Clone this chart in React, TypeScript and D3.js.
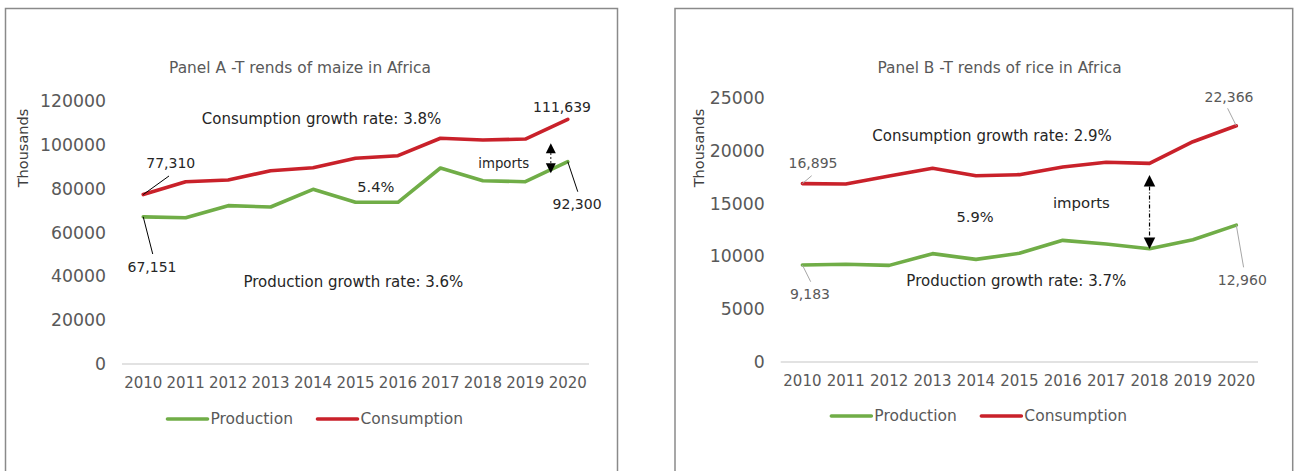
import React from "react";
import * as d3 from "d3";

const years = [2010, 2011, 2012, 2013, 2014, 2015, 2016, 2017, 2018, 2019, 2020];
const maizeProduction = [67151, 66700, 72250, 71630, 79700, 73770, 73770, 89430, 83640, 83180, 92300];
const maizeConsumption = [77310, 83180, 83950, 88200, 89570, 93850, 95050, 103000, 102200, 102650, 111639];
const riceProduction = [9183, 9250, 9150, 10260, 9720, 10290, 11520, 11170, 10730, 11580, 12960];
const riceConsumption = [16895, 16860, 17610, 18340, 17640, 17740, 18470, 18910, 18810, 20860, 22366];
const maizeTicks = [0, 20000, 40000, 60000, 80000, 100000, 120000];
const riceTicks = [0, 5000, 10000, 15000, 20000, 25000];
const seriesNames = ["Production", "Consumption"];

const GREEN = "#70AD47";
const RED = "#C9212A";
const FONT = "DejaVu Sans, sans-serif";

type PointLabel = { series: 0 | 1; index: number; text: string; dx: number; dy: number; lx: number; ly: number };
type FreeText = { text: string; year: number; value: number; size: number };

type PanelProps = {
  title: string;
  titleX: number;
  frameX0: number;
  frameX1: number;
  x0: number;
  x1: number;
  yTop: number;
  yBot: number;
  yMax: number;
  ticks: number[];
  prod: number[];
  cons: number[];
  labels: PointLabel[];
  texts: FreeText[];
  arrow: { year: number; v1: number; v2: number; dash: string; head: number };
  labelColor: string;
  leaderColor: string;
  thousandsX: number;
  legendY: number;
};

function Panel(p: PanelProps) {
  const x = d3.scaleBand<number>().domain(years).range([p.x0, p.x1]).padding(0);
  const bw = x.bandwidth();
  const cx = (yr: number) => p.x0 + (yr - years[0] + 0.5) * bw;
  const y = d3.scaleLinear().domain([0, p.yMax]).range([p.yBot, p.yTop]);
  const line = d3
    .line<number>()
    .x((_, i) => cx(years[i]))
    .y((d) => y(d));
  const series = [p.prod, p.cons];
  const colors = [GREEN, RED];
  const ax = cx(p.arrow.year);
  const ay1 = y(p.arrow.v1);
  const ay2 = y(p.arrow.v2);
  const h = p.arrow.head;
  const midX = (p.x0 + p.x1) / 2;
  const legendStart = midX - 188;
  return (
    <g>
      <path
        d={`M${p.frameX0},471 L${p.frameX0},${8.5} L${p.frameX1},${8.5} L${p.frameX1},471`}
        fill="none"
        stroke="#8a8a8a"
        strokeWidth={1.5}
      />
      <text x={p.titleX} y={68} textAnchor="middle" dominantBaseline="central" fontSize={15.4} fill="#595959">
        {p.title}
      </text>
      <text
        transform={`translate(${p.thousandsX},${148}) rotate(-90)`}
        textAnchor="middle"
        dominantBaseline="central"
        fontSize={14.5}
        fill="#404040"
      >
        Thousands
      </text>
      {p.ticks.map((t) => (
        <text key={t} x={p.x0 - 16} y={y(t)} textAnchor="end" dominantBaseline="central" fontSize={17.3} fill="#595959">
          {t}
        </text>
      ))}
      <line x1={p.x0} x2={p.x1} y1={y(0)} y2={y(0)} stroke="#d9d9d9" strokeWidth={1.3} />
      {years.map((yr) => (
        <text key={yr} x={cx(yr)} y={p.yBot + 19} textAnchor="middle" dominantBaseline="central" fontSize={15} fill="#595959">
          {yr}
        </text>
      ))}
      {series.map((s, i) => (
        <path key={i} d={line(s) || ""} fill="none" stroke={colors[i]} strokeWidth={3.6} strokeLinejoin="round" strokeLinecap="round" />
      ))}
      {p.labels.map((l, i) => {
        const px = cx(years[l.index]);
        const py = y(series[l.series][l.index]);
        return (
          <g key={i}>
            {l.lx !== 0 || l.ly !== 0 ? (
              <line x1={px} y1={py} x2={px + l.lx} y2={py + l.ly} stroke={p.leaderColor} strokeWidth={1} />
            ) : null}
            <text x={px + l.dx} y={py + l.dy} textAnchor="middle" dominantBaseline="central" fontSize={14} fill={p.labelColor}>
              {l.text}
            </text>
          </g>
        );
      })}
      {p.texts.map((t, i) => (
        <text key={i} x={cx(t.year)} y={y(t.value)} textAnchor="middle" dominantBaseline="central" fontSize={t.size} fill="#262626">
          {t.text}
        </text>
      ))}
      <line x1={ax} x2={ax} y1={ay1 + h} y2={ay2 - h} stroke="#000" strokeWidth={1.2} strokeDasharray={p.arrow.dash} />
      <path d={`M${ax},${ay1} L${ax - h / 2},${ay1 + h} L${ax + h / 2},${ay1 + h} Z`} fill="#000" />
      <path d={`M${ax},${ay2} L${ax - h / 2},${ay2 - h} L${ax + h / 2},${ay2 - h} Z`} fill="#000" />
      {seriesNames.map((n, i) => {
        const lx = legendStart + i * 150;
        return (
          <g key={n}>
            <line x1={lx} x2={lx + 40} y1={p.legendY} y2={p.legendY} stroke={colors[i]} strokeWidth={3.6} strokeLinecap="round" />
            <text x={lx + 43} y={p.legendY} dominantBaseline="central" fontSize={15.5} fill="#595959">
              {n}
            </text>
          </g>
        );
      })}
    </g>
  );
}

export default function App() {
  return (
    <svg width={1294} height={471} style={{ position: "absolute", left: 0, top: 0, fontFamily: FONT }}>
      <rect x={0} y={0} width={1294} height={471} fill="#fff" />
      <Panel
        title="Panel A -T rends of maize in Africa"
        titleX={300}
        frameX0={5.5}
        frameX1={617.5}
        x0={122}
        x1={589}
        yTop={101}
        yBot={364}
        yMax={120000}
        ticks={maizeTicks}
        prod={maizeProduction}
        cons={maizeConsumption}
        labelColor="#262626"
        leaderColor="#000"
        thousandsX={23}
        legendY={419}
        labels={[
          { series: 1, index: 0, text: "77,310", dx: 27.5, dy: -31.3, lx: 25.8, ly: -18.6 },
          { series: 1, index: 10, text: "111,639", dx: -5.7, dy: -12.6, lx: 0, ly: 0 },
          { series: 0, index: 10, text: "92,300", dx: 9.3, dy: 42.3, lx: 10, ly: 30 },
          { series: 0, index: 0, text: "67,151", dx: 8.8, dy: 49.9, lx: 9.5, ly: 37.2 },
        ]}
        texts={[
          { text: "Consumption growth rate: 3.8%", year: 2014.2, value: 111800, size: 15 },
          { text: "imports", year: 2018.49, value: 91600, size: 13.3 },
          { text: "5.4%", year: 2015.48, value: 80900, size: 14.6 },
          { text: "Production growth rate: 3.6%", year: 2014.95, value: 37300, size: 15 },
        ]}
        arrow={{ year: 2019.6, v1: 100700, v2: 87000, dash: "1.5 2.5", head: 10 }}
      />
      <Panel
        title="Panel B -T rends of rice in Africa"
        titleX={999.5}
        frameX0={675}
        frameX1={1292.7}
        x0={780.7}
        x1={1258}
        yTop={98}
        yBot={362}
        yMax={25000}
        ticks={riceTicks}
        prod={riceProduction}
        cons={riceConsumption}
        labelColor="#595959"
        leaderColor="#a6a6a6"
        thousandsX={699}
        legendY={416}
        labels={[
          { series: 1, index: 0, text: "16,895", dx: 10.6, dy: -20.3, lx: 9.3, ly: -7.9 },
          { series: 1, index: 10, text: "22,366", dx: -7.3, dy: -29.1, lx: -8.7, ly: -17.5 },
          { series: 0, index: 0, text: "9,183", dx: 7.6, dy: 29.3, lx: 8.3, ly: 16.7 },
          { series: 0, index: 10, text: "12,960", dx: 6, dy: 54.9, lx: 7.3, ly: 42.2 },
        ]}
        texts={[
          { text: "Consumption growth rate: 2.9%", year: 2014.37, value: 21430, size: 15 },
          { text: "imports", year: 2016.43, value: 15030, size: 14.9 },
          { text: "5.9%", year: 2013.98, value: 13760, size: 14.6 },
          { text: "Production growth rate: 3.7%", year: 2014.93, value: 7700, size: 15 },
        ]}
        arrow={{ year: 2018, v1: 17700, v2: 10700, dash: "4 2 1 2", head: 11.5 }}
      />
    </svg>
  );
}
